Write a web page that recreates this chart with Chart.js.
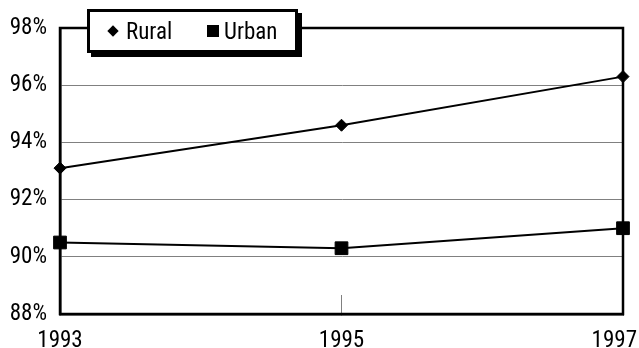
<!DOCTYPE html>
<html>
<head>
<meta charset="utf-8">
<script src="https://cdn.jsdelivr.net/npm/chart.js@4"></script>
<style>
  html, body { margin: 0; padding: 0; background: #fff; }
  #wrap { position: relative; width: 639px; height: 348px; }
  canvas { display: block; }
  #legend {
    position: absolute; left: 87px; top: 9px; width: 205px; height: 38px;
    background: #fff; border: 3px solid #000; box-shadow: 4px 4px 0 #000;
    font-family: 'Roboto Condensed', sans-serif; font-size: 23px; color: #000;
  }
  .item { display: flex; align-items: center; position: absolute; top: 0; height: 38px; }
  .mk { display: inline-block; background: #000; }
  .mk.diamond { width: 8px; height: 8px; transform: rotate(45deg); margin: 0 9px 0 0; }
  .mk.square { width: 12px; height: 12px; margin: 0 5px 0 0; }
</style>
</head>
<body>
<div id="wrap">
  <canvas id="c" width="639" height="348"></canvas>
  <div id="legend"></div>
</div>
<script>
// Survey years and shares (percent) for each area type
const years = ['1993', '1995', '1997'];
const rural = [93.1, 94.6, 96.3];
const urban = [90.5, 90.3, 91.0];
const seriesNames = ['Rural', 'Urban'];
const yTicks = [88, 90, 92, 94, 96, 98];

const FONT = "'Roboto Condensed', sans-serif";
const FONT_SIZE = 23;

// Heavy frame around the plotting area
const frame = {
  id: 'frame',
  beforeDatasetsDraw(chart) {
    const a = chart.chartArea, ctx = chart.ctx;
    ctx.save();
    ctx.strokeStyle = '#000';
    ctx.lineWidth = 2.5;
    ctx.strokeRect(a.left, a.top, a.right - a.left, a.bottom - a.top);
    ctx.restore();
  }
};

// Pull a category label back inside the canvas when it would spill over the right edge
const keepLabelsInside = {
  id: 'keepLabelsInside',
  beforeDraw(chart) {
    const s = chart.scales.x;
    const items = s._computeLabelItems(chart.chartArea);
    const ctx = chart.ctx;
    ctx.save();
    items.forEach(it => {
      ctx.font = it.font.string;
      const w = ctx.measureText(it.label).width;
      const x = it.options.translation[0];
      if (x + w / 2 > chart.width - 2) {
        it.options.textAlign = 'right';
        it.options.translation[0] = chart.width - 2;
      }
    });
    ctx.restore();
    s._labelItems = items;
  }
};

const chart = new Chart(document.getElementById('c'), {
  type: 'line',
  data: {
    labels: years,
    datasets: [
      {
        label: seriesNames[0], data: rural,
        borderColor: '#000', backgroundColor: '#000', borderWidth: 2,
        pointStyle: 'rectRot', pointRadius: 6, pointBorderWidth: 1, tension: 0
      },
      {
        label: seriesNames[1], data: urban,
        borderColor: '#000', backgroundColor: '#000', borderWidth: 2,
        pointStyle: 'rect', pointRadius: 9, pointBorderWidth: 1, tension: 0
      }
    ]
  },
  options: {
    responsive: false,
    animation: false,
    layout: { padding: { top: 28, right: 16, left: 0, bottom: 0 } },
    plugins: { legend: { display: false }, tooltip: { enabled: false } },
    scales: {
      x: {
        offset: false,
        grid: { drawOnChartArea: false, drawTicks: true, tickLength: -19, color: '#808080', lineWidth: 1 },
        border: { display: true, color: '#000', width: 2.5 },
        ticks: { color: '#000', font: { family: FONT, size: FONT_SIZE }, padding: 32, maxRotation: 0 },
        afterFit(s) { s.height = 34; s.paddingLeft = 0; s.paddingRight = 0; }
      },
      y: {
        min: 88, max: 98,
        afterBuildTicks(s) { s.ticks = yTicks.map(v => ({ value: v })); },
        grid: { color: '#808080', lineWidth: 1, drawTicks: false },
        border: { display: true, color: '#000', width: 2.5 },
        ticks: { color: '#000', font: { family: FONT, size: FONT_SIZE }, padding: 13, callback: v => v + '%' },
        afterFit(s) { s.width = 60; s.paddingTop = 0; s.paddingBottom = 0; }
      }
    }
  },
  plugins: [frame, keepLabelsInside]
});

// Legend built from the chart's datasets
const legend = document.getElementById('legend');
const shapes = { rectRot: 'diamond', rect: 'square' };
const offsets = [19, 117];
chart.data.datasets.forEach((ds, i) => {
  const item = document.createElement('div');
  item.className = 'item';
  item.style.left = offsets[i] + 'px';
  const mk = document.createElement('span');
  mk.className = 'mk ' + shapes[ds.pointStyle];
  const tx = document.createElement('span');
  tx.textContent = ds.label;
  item.appendChild(mk);
  item.appendChild(tx);
  legend.appendChild(item);
});
</script>
</body>
</html>
